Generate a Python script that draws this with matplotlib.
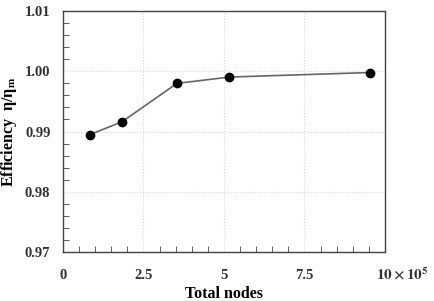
import matplotlib
matplotlib.use("Agg")
import matplotlib.pyplot as plt
from matplotlib.ticker import MultipleLocator

nodes_e5 = [0.84, 1.83, 3.54, 5.17, 9.52]
efficiency = [0.9895, 0.9916, 0.9980, 0.99905, 0.9998]
x_ticks = [0, 2.5, 5, 7.5, 10]
x_tick_labels = ["0", "2.5", "5", "7.5", ""]
y_ticks = [0.97, 0.98, 0.99, 1.00, 1.01]

plt.rcParams['font.family'] = ['Liberation Serif', 'DejaVu Serif']
plt.rcParams['mathtext.fontset'] = 'stix'

fig = plt.figure(figsize=(4.34, 3.01), dpi=100)
ax = fig.add_axes([0.145, 0.163, 0.742, 0.800])

ax.plot(nodes_e5, efficiency, color='#666666', lw=1.2, marker='o',
        markersize=6, markerfacecolor='black', markeredgecolor='black', zorder=3)

ax.set_xlim(0, 10)
ax.set_ylim(0.97, 1.01)
ax.set_xticks(x_ticks)
ax.set_xticklabels(x_tick_labels)
ax.set_yticks(y_ticks)
ax.set_yticklabels([f"{v:.2f}" for v in y_ticks])
ax.xaxis.set_minor_locator(MultipleLocator(0.5))
ax.yaxis.set_minor_locator(MultipleLocator(0.002))
ax.tick_params(which='both', direction='in', labelsize=10.5, color='#444444')
ax.tick_params(axis='y', which='major', length=0, pad=9)
ax.tick_params(axis='x', which='major', length=0, pad=12)
ax.tick_params(which='minor', length=4)
for lab in ax.get_xticklabels() + ax.get_yticklabels():
    lab.set_fontweight('bold')
    lab.set_color('#333333')

ax.grid(True, which='major', color='#d6d6d6', linestyle=':', linewidth=0.8)
for s in ax.spines.values():
    s.set_color('#444444')
    s.set_linewidth(1.0)

ax.text(9.72, -0.058, r'$\mathbf{10\times10^{5}}$', transform=ax.get_xaxis_transform(),
        ha='left', va='top', fontsize=11, color='#333333')

ax.set_xlabel('Total nodes', fontsize=11.5, fontweight='bold', labelpad=3)
ax.set_ylabel(r'Efficiency  η/η$_\mathbf{m}$', fontsize=11.5, fontweight='bold', labelpad=4)

fig.savefig('out.png', dpi=100)
